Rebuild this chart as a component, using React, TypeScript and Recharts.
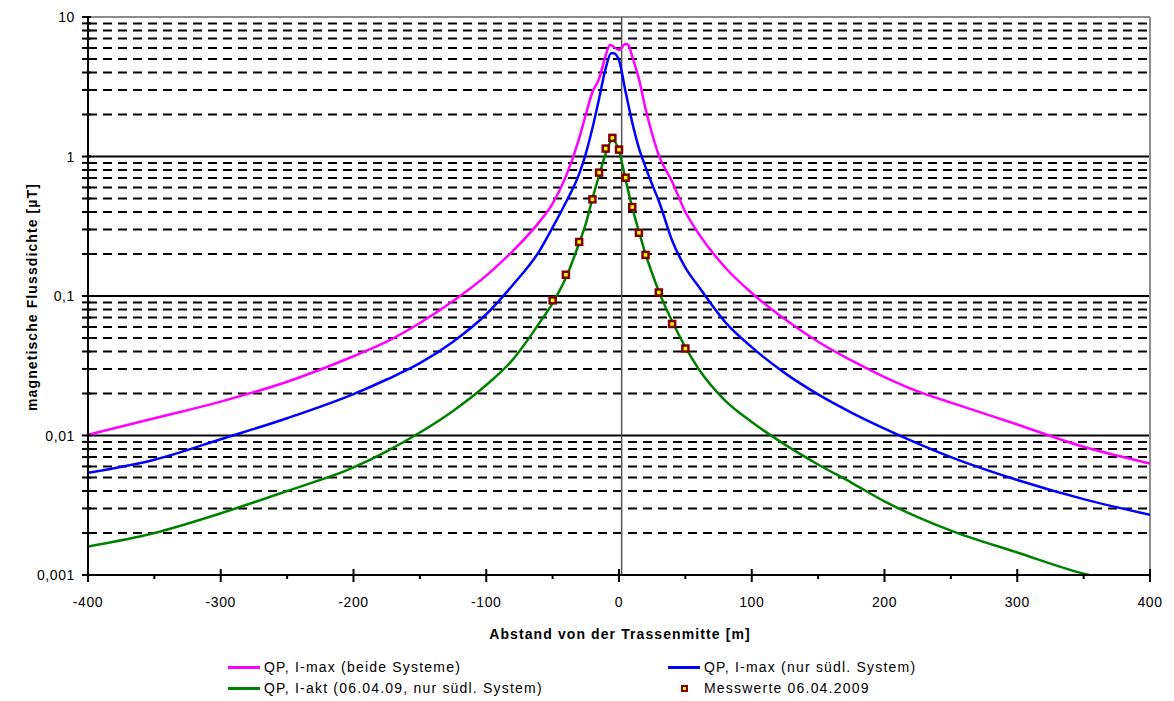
import React from 'react';
import {
  ComposedChart,
  Line,
  Scatter,
  XAxis,
  YAxis,
  ReferenceLine,
} from 'recharts';

// Abstand von der Trassenmitte [m] -> magnetische Flussdichte [µT]
const pinkData = [
  { x: -400, y: 0.0101 }, { x: -350, y: 0.0133 }, { x: -300, y: 0.0175 },
  { x: -250, y: 0.0243 }, { x: -200, y: 0.037 }, { x: -175, y: 0.047 },
  { x: -150, y: 0.064 }, { x: -125, y: 0.092 }, { x: -100, y: 0.14 },
  { x: -80, y: 0.21 }, { x: -60, y: 0.34 }, { x: -50, y: 0.46 },
  { x: -40, y: 0.72 }, { x: -30, y: 1.35 }, { x: -25, y: 2.0 },
  { x: -20, y: 2.9 }, { x: -15, y: 3.6 }, { x: -10, y: 5.3 },
  { x: -7, y: 6.3 }, { x: -5, y: 6.2 }, { x: 0, y: 5.8 },
  { x: 5, y: 6.4 }, { x: 7, y: 6.3 }, { x: 10, y: 5.2 },
  { x: 15, y: 3.6 }, { x: 20, y: 2.2 }, { x: 25, y: 1.45 },
  { x: 30, y: 1.02 }, { x: 40, y: 0.66 }, { x: 50, y: 0.4 },
  { x: 60, y: 0.28 }, { x: 80, y: 0.16 }, { x: 100, y: 0.105 },
  { x: 125, y: 0.068 }, { x: 150, y: 0.047 }, { x: 175, y: 0.0345 },
  { x: 200, y: 0.0262 }, { x: 225, y: 0.0207 }, { x: 250, y: 0.0172 },
  { x: 300, y: 0.012 }, { x: 350, y: 0.0083 }, { x: 400, y: 0.0063 },
];

const blueData = [
  { x: -400, y: 0.0054 }, { x: -350, y: 0.0067 }, { x: -300, y: 0.0094 },
  { x: -250, y: 0.0133 }, { x: -200, y: 0.0198 }, { x: -175, y: 0.0252 },
  { x: -150, y: 0.033 }, { x: -125, y: 0.047 }, { x: -100, y: 0.074 },
  { x: -80, y: 0.12 }, { x: -60, y: 0.21 }, { x: -50, y: 0.31 },
  { x: -40, y: 0.47 }, { x: -30, y: 0.75 }, { x: -25, y: 1.05 },
  { x: -20, y: 1.6 }, { x: -15, y: 2.6 }, { x: -10, y: 4.3 },
  { x: -6, y: 5.5 }, { x: -4, y: 5.5 }, { x: 0, y: 4.9 },
  { x: 5, y: 2.9 }, { x: 10, y: 1.75 }, { x: 15, y: 1.15 },
  { x: 20, y: 0.84 }, { x: 25, y: 0.63 }, { x: 30, y: 0.48 },
  { x: 40, y: 0.25 }, { x: 50, y: 0.16 }, { x: 60, y: 0.117 },
  { x: 80, y: 0.065 }, { x: 100, y: 0.043 }, { x: 125, y: 0.028 },
  { x: 150, y: 0.0197 }, { x: 175, y: 0.0146 }, { x: 200, y: 0.0112 },
  { x: 250, y: 0.007 }, { x: 300, y: 0.0048 }, { x: 350, y: 0.0035 },
  { x: 400, y: 0.0027 },
];

const greenData = [
  { x: -400, y: 0.0016 }, { x: -350, y: 0.002 }, { x: -300, y: 0.00277 },
  { x: -250, y: 0.004 }, { x: -200, y: 0.0059 }, { x: -175, y: 0.0077 },
  { x: -150, y: 0.0105 }, { x: -125, y: 0.015 }, { x: -100, y: 0.023 },
  { x: -80, y: 0.035 }, { x: -60, y: 0.064 }, { x: -50, y: 0.089 },
  { x: -40, y: 0.135 }, { x: -30, y: 0.24 }, { x: -25, y: 0.33 },
  { x: -20, y: 0.5 }, { x: -15, y: 0.73 }, { x: -10, y: 1.05 },
  { x: -5, y: 1.32 }, { x: 0, y: 1.1 }, { x: 5, y: 0.68 },
  { x: 10, y: 0.43 }, { x: 15, y: 0.29 }, { x: 20, y: 0.2 },
  { x: 25, y: 0.145 }, { x: 30, y: 0.108 }, { x: 40, y: 0.066 },
  { x: 50, y: 0.043 }, { x: 60, y: 0.03 }, { x: 80, y: 0.0178 },
  { x: 100, y: 0.0125 }, { x: 125, y: 0.0086 }, { x: 150, y: 0.0062 },
  { x: 175, y: 0.0046 }, { x: 200, y: 0.00337 }, { x: 250, y: 0.00208 },
  { x: 300, y: 0.00145 }, { x: 350, y: 0.00102 }, { x: 370, y: 0.00092 },
];

const messwerte = [
  { x: -50, y: 0.093 }, { x: -40, y: 0.142 }, { x: -30, y: 0.244 },
  { x: -20, y: 0.493 }, { x: -15, y: 0.766 }, { x: -10, y: 1.14 },
  { x: -5, y: 1.36 }, { x: 0, y: 1.12 }, { x: 5, y: 0.705 },
  { x: 10, y: 0.434 }, { x: 15, y: 0.284 }, { x: 20, y: 0.197 },
  { x: 30, y: 0.106 }, { x: 40, y: 0.063 }, { x: 50, y: 0.042 },
];

const xTicks = [-400, -350, -300, -250, -200, -150, -100, -50, 0, 50, 100, 150, 200, 250, 300, 350, 400];
const yMajorTicks = [0.001, 0.01, 0.1, 1, 10];
const yMinorTicks = [
  0.002, 0.003, 0.004, 0.005, 0.006, 0.007, 0.008, 0.009,
  0.02, 0.03, 0.04, 0.05, 0.06, 0.07, 0.08, 0.09,
  0.2, 0.3, 0.4, 0.5, 0.6, 0.7, 0.8, 0.9,
  2, 3, 4, 5, 6, 7, 8, 9,
];
const yLabels: Record<string, string> = {
  '0.001': '0,001',
  '0.01': '0,01',
  '0.1': '0,1',
  '1': '1',
  '10': '10',
};
const zeroLineX = 2;

const FONT = '"Liberation Sans", Arial, sans-serif';

const YTick = (props: any) => {
  const { x, y, payload } = props;
  const label = yLabels[String(payload.value)];
  return (
    <g>
      <line x1={x - 6} x2={x + 3} y1={y} y2={y} stroke="#000" strokeWidth={2} />
      {label && (
        <text x={x - 13} y={y} dy={5} textAnchor="end" fontSize={14} letterSpacing={0.6} fontFamily={FONT} fill="#000">
          {label}
        </text>
      )}
    </g>
  );
};

const XTick = (props: any) => {
  const { x, y, payload } = props;
  const major = payload.value % 100 === 0;
  return (
    <g>
      {major ? (
        <line x1={x} x2={x} y1={y - 6} y2={y + 7} stroke="#000" strokeWidth={2} />
      ) : (
        <line x1={x} x2={x} y1={y} y2={y + 4} stroke="#000" strokeWidth={2} />
      )}
      {major && (
        <text x={x} y={y + 32} textAnchor="middle" fontSize={14} letterSpacing={0.6} fontFamily={FONT} fill="#000">
          {payload.value}
        </text>
      )}
    </g>
  );
};

const Marker = (props: any) => {
  const { cx, cy } = props;
  return (
    <rect x={cx - 3} y={cy - 3} width={6} height={6} fill="#FFFF00" stroke="#800000" strokeWidth={2.5} />
  );
};

const legendText: React.CSSProperties = {
  position: 'absolute',
  fontSize: 14,
  fontFamily: FONT,
  letterSpacing: 1.2,
  lineHeight: '16px',
  whiteSpace: 'nowrap',
  color: '#000',
};

const titleText: React.CSSProperties = {
  position: 'absolute',
  fontSize: 14,
  fontWeight: 'bold',
  fontFamily: FONT,
  letterSpacing: 1.1,
  whiteSpace: 'nowrap',
};

const Swatch = ({ left, top, color }: { left: number; top: number; color: string }) => (
  <div style={{ position: 'absolute', left, top: top - 1.5, width: 32, height: 3, background: color }} />
);

export default function App() {
  return (
    <div style={{ position: 'absolute', left: 0, top: 0, width: 1174, height: 701, background: '#fff' }}>
      <ComposedChart width={1174} height={701} margin={{ top: 17, right: 24, left: 0, bottom: 96 }}>
        <XAxis
          type="number"
          dataKey="x"
          domain={[-400, 400]}
          ticks={xTicks}
          interval={0}
          allowDataOverflow
          tickSize={0}
          tickMargin={0}
          tickLine={false}
          axisLine={{ stroke: '#000', strokeWidth: 2 }}
          tick={<XTick />}
          height={30}
        />
        <YAxis
          type="number"
          dataKey="y"
          scale="log"
          domain={[0.001, 10]}
          ticks={[...yMajorTicks, ...yMinorTicks]}
          interval={0}
          allowDataOverflow
          tickSize={0}
          tickMargin={0}
          tickLine={false}
          axisLine={{ stroke: '#000', strokeWidth: 2 }}
          tick={<YTick />}
          width={88}
        />
        {yMinorTicks.map((v) => (
          <ReferenceLine key={`m${v}`} y={v} stroke="#000" strokeWidth={2} strokeDasharray="9 6" />
        ))}
        {yMajorTicks.slice(1, 4).map((v) => (
          <ReferenceLine key={`M${v}`} y={v} stroke="#000" strokeWidth={2} />
        ))}
        <ReferenceLine y={10} stroke="#8c8c8c" strokeWidth={2} />
        <ReferenceLine x={400} stroke="#8c8c8c" strokeWidth={2} />
        <ReferenceLine x={zeroLineX} stroke="#555" strokeWidth={1.5} />
        <Line type="monotone" data={pinkData} dataKey="y" stroke="#FF00FF" strokeWidth={2.5} dot={false} isAnimationActive={false} />
        <Line type="monotone" data={blueData} dataKey="y" stroke="#0000FF" strokeWidth={2.5} dot={false} isAnimationActive={false} />
        <Line type="monotone" data={greenData} dataKey="y" stroke="#008000" strokeWidth={2.5} dot={false} isAnimationActive={false} />
        <Scatter data={messwerte} dataKey="y" shape={<Marker />} isAnimationActive={false} />
      </ComposedChart>

      <div style={{ ...titleText, left: 32, top: 297, transform: 'translate(-50%, -50%) rotate(-90deg)' }}>
        magnetische Flussdichte [µT]
      </div>
      <div style={{ ...titleText, left: 620, top: 634, transform: 'translate(-50%, -50%)' }}>
        Abstand von der Trassenmitte [m]
      </div>

      <Swatch left={228} top={667} color="#FF00FF" />
      <div style={{ ...legendText, left: 264, top: 659 }}>QP, I-max (beide Systeme)</div>
      <Swatch left={228} top={688} color="#008000" />
      <div style={{ ...legendText, left: 264, top: 680 }}>QP, I-akt (06.04.09, nur südl. System)</div>
      <Swatch left={668} top={667} color="#0000FF" />
      <div style={{ ...legendText, left: 704, top: 659 }}>QP, I-max (nur südl. System)</div>
      <div
        style={{
          position: 'absolute',
          left: 681,
          top: 685,
          width: 3,
          height: 3,
          background: '#FFFF00',
          border: '2.5px solid #800000',
        }}
      />
      <div style={{ ...legendText, left: 704, top: 680 }}>Messwerte 06.04.2009</div>
    </div>
  );
}
